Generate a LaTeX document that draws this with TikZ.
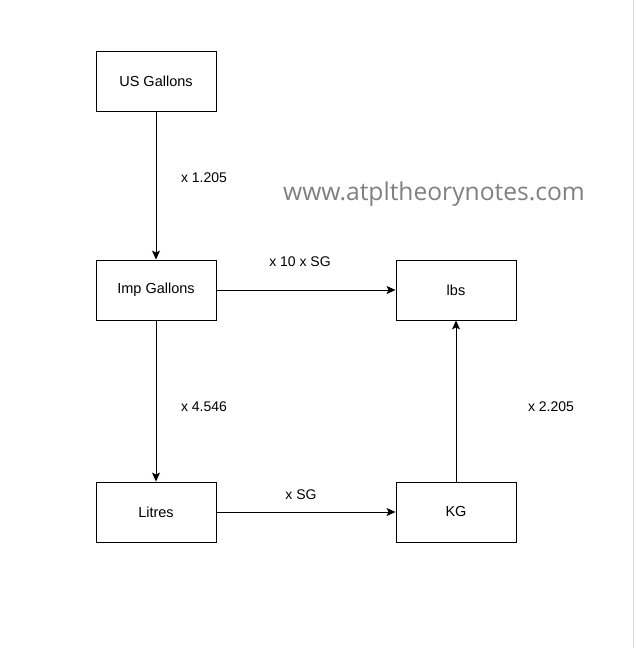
\documentclass[tikz,border=0pt]{standalone}
\usepackage{fontspec}
\setmainfont{Liberation Sans}
\newfontfamily\wmfont{Open Sans}
\usetikzlibrary{arrows.meta}
\begin{document}
\begin{tikzpicture}[x=1pt,y=-1pt,
  box/.style={draw,line width=0.9pt,minimum width=120pt,minimum height=60pt,inner sep=0pt,font=\fontsize{14.5}{17}\selectfont},
  conn/.style={draw,line width=0.9pt,-{Stealth[length=9pt,width=8pt,inset=2pt]}},
  lbl/.style={font=\fontsize{14}{17}\selectfont,inner sep=0pt}]
\useasboundingbox (0,0) rectangle (635,648);
\fill[white] (0,0) rectangle (635,648);
\draw[gray!30,line width=1pt] (633,0) -- (633,648);
\node[box] (us) at (156,81) {US Gallons};
\node[box] (imp) at (156,290) {Imp Gallons};
\node[box] (lit) at (156,512) {Litres};
\node[box] (lbs) at (456,290) {lbs};
\node[box] (kg) at (456,512) {KG};
\draw[conn] (us) -- (imp);
\draw[conn] (imp) -- (lit);
\draw[conn] (imp) -- (lbs);
\draw[conn] (lit) -- (kg);
\draw[conn] (kg) -- (lbs);
\node[lbl] (l1) at (204,178) {x 1.205};
\node[lbl] (l2) at (300,262) {x 10 x SG};
\node[lbl] (l3) at (204,407) {x 4.546};
\node[lbl] (l4) at (301,495) {x SG};
\node[lbl] (l5) at (551,407) {x 2.205};
\node[font=\wmfont\fontsize{24.6}{30}\selectfont,text=black!50,inner sep=0pt] (wm) at (434,194) {www.atpltheorynotes.com};
\end{tikzpicture}
\end{document}
